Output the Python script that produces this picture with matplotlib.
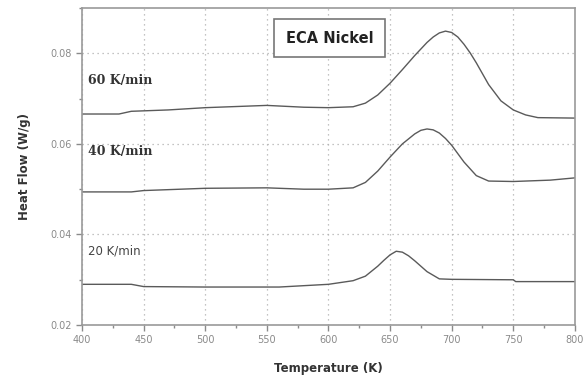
import numpy as np
import matplotlib
matplotlib.use("Agg")
import matplotlib.pyplot as plt
from matplotlib.ticker import MultipleLocator

# ── Datos ────────────────────────────────────────────────────────────────────
temp_60 = [400, 430, 440, 470, 500, 550, 580, 600, 620, 630, 640, 650, 660,
           670, 680, 685, 690, 695, 700, 705, 710, 715, 720, 725, 730, 740,
           750, 760, 770, 800]
flow_60 = [0.0666, 0.0666, 0.0672, 0.0675, 0.0680, 0.0685, 0.0681, 0.0680,
           0.0682, 0.0690, 0.0708, 0.0734, 0.0764, 0.0795, 0.0824, 0.0836,
           0.0845, 0.0849, 0.0846, 0.0836, 0.0820, 0.0801, 0.0779, 0.0755,
           0.0731, 0.0695, 0.0675, 0.0664, 0.0658, 0.0657]

temp_40 = [400, 440, 450, 480, 500, 550, 580, 600, 620, 630, 640, 650, 660,
           670, 675, 680, 685, 690, 695, 700, 710, 720, 730, 750, 780, 800]
flow_40 = [0.0494, 0.0494, 0.0497, 0.0500, 0.0502, 0.0503, 0.0500, 0.0500,
           0.0503, 0.0515, 0.0540, 0.0571, 0.0600, 0.0622, 0.0630, 0.0633,
           0.0631, 0.0624, 0.0612, 0.0597, 0.0560, 0.0530, 0.0518, 0.0517,
           0.0520, 0.0525]

temp_20 = [400, 440, 450, 500, 560, 600, 620, 630, 640, 645, 650, 655, 660,
           665, 670, 680, 690, 700, 750, 752, 800]
flow_20 = [0.0290, 0.0290, 0.0285, 0.0284, 0.0284, 0.0290, 0.0298, 0.0308,
           0.0330, 0.0343, 0.0355, 0.0363, 0.0361, 0.0353, 0.0342, 0.0318,
           0.0302, 0.0301, 0.0300, 0.0296, 0.0296]

x_ticks = [400, 450, 500, 550, 600, 650, 700, 750, 800]
y_ticks = [0.02, 0.04, 0.06, 0.08]

LINE = "#5a5a5a"
GRID = "#b0b0b0"
TICK = "#8a8a8a"

fig = plt.figure(figsize=(5.86, 3.82), dpi=100)
ax = fig.add_axes([0.140, 0.149, 0.841, 0.830])

for t, f in [(temp_60, flow_60), (temp_40, flow_40), (temp_20, flow_20)]:
    ax.plot(t, f, color=LINE, lw=1.0)

ax.set_xlim(400, 800)
ax.set_ylim(0.02, 0.09)
ax.set_xticks(x_ticks)
ax.set_yticks(y_ticks)
ax.set_xticklabels([str(v) for v in x_ticks])
ax.set_yticklabels([f"{v:.2f}" for v in y_ticks])
ax.xaxis.set_minor_locator(MultipleLocator(25))
ax.yaxis.set_minor_locator(MultipleLocator(0.01))
ax.tick_params(which="major", length=4, width=1, color=TICK,
               labelcolor=TICK, labelsize=7)
ax.tick_params(which="minor", length=2, width=1, color=TICK)
ax.grid(True, which="major", ls=(0, (1, 3)), color=GRID, lw=0.9)

for side in ["left", "bottom", "right", "top"]:
    ax.spines[side].set_color("#9a9a9a")
    ax.spines[side].set_linewidth(1.2)

ax.set_xlabel("Temperature (K)", fontsize=8.5, fontweight="bold",
              color="#333333", labelpad=12)
ax.set_ylabel("Heat Flow (W/g)", fontsize=8.5, fontweight="bold",
              color="#333333", labelpad=14)

# Etiquetas de velocidad de calentamiento
ax.text(0.013, 0.772, "60 K/min", transform=ax.transAxes, fontsize=9,
        family="DejaVu Serif", fontweight="bold", color="#333333", va="center")
ax.text(0.013, 0.548, "40 K/min", transform=ax.transAxes, fontsize=9,
        family="DejaVu Serif", fontweight="bold", color="#333333", va="center")
ax.text(0.013, 0.233, "20 K/min", transform=ax.transAxes, fontsize=8.5,
        color="#444444", va="center")

ax.text(0.503, 0.905, "ECA Nickel", transform=ax.transAxes, fontsize=10.5,
        fontweight="bold", color="#222222", ha="center", va="center",
        bbox=dict(boxstyle="square,pad=0.8", fc="white", ec="#777777", lw=1.2))

fig.savefig("out.png", dpi=100)
plt.close(fig)
